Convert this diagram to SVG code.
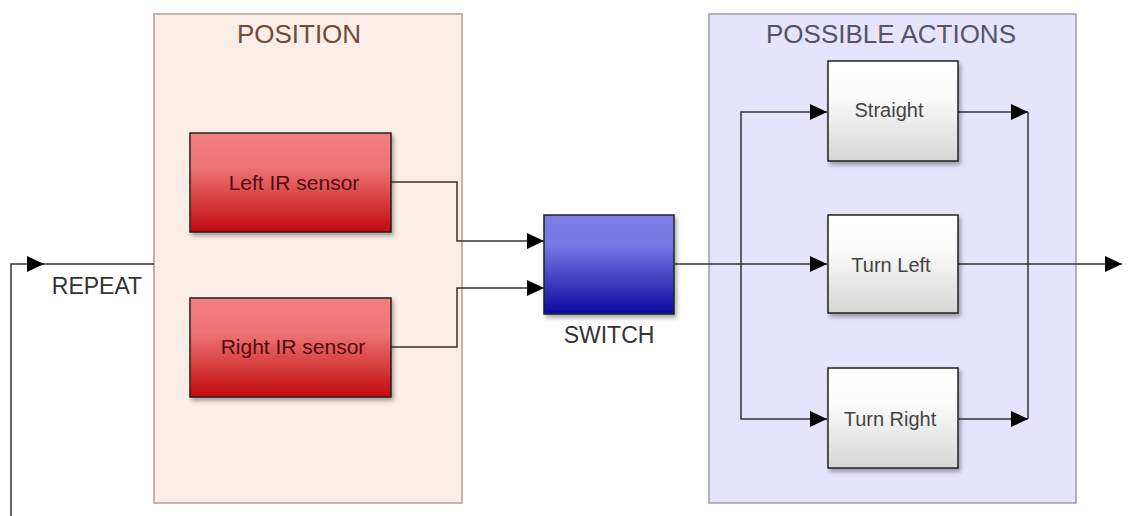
<svg xmlns="http://www.w3.org/2000/svg" width="1128" height="516" viewBox="0 0 1128 516">
<style>
.panel-title{font-family:"Liberation Sans",Arial,sans-serif;font-size:26px;text-anchor:middle}
.lbl{font-family:"Liberation Sans",Arial,sans-serif;text-anchor:middle}
.conn{fill:none;stroke:#333;stroke-width:1.5}
.box{stroke:#222;stroke-width:1.5}
</style>
<defs>
<linearGradient id="gRed" x1="0" y1="0" x2="0" y2="1">
<stop offset="0" stop-color="#f27f80"/><stop offset="0.35" stop-color="#ee7474"/><stop offset="1" stop-color="#c20a0e"/>
</linearGradient>
<linearGradient id="gBlue" x1="0" y1="0" x2="0" y2="1">
<stop offset="0" stop-color="#7d7ee6"/><stop offset="0.3" stop-color="#7778e4"/><stop offset="1" stop-color="#0b0a9e"/>
</linearGradient>
<linearGradient id="gWhite" x1="0" y1="0" x2="0" y2="1">
<stop offset="0" stop-color="#ffffff"/><stop offset="0.35" stop-color="#fbfbfb"/><stop offset="1" stop-color="#d6d6d6"/>
</linearGradient>
<filter id="sh" x="-10%" y="-10%" width="125%" height="130%">
<feDropShadow dx="2" dy="3" stdDeviation="2" flood-color="#000" flood-opacity="0.35"/>
</filter>
<marker id="arr" viewBox="0 0 17 16" refX="17" refY="8" markerWidth="17" markerHeight="16" markerUnits="userSpaceOnUse" orient="auto">
<path d="M0,0 L17,8 L0,16 Z" fill="#000"/>
</marker>
</defs>
<rect width="1128" height="516" fill="#fff"/>

<g id="panel-position">
<rect x="154" y="14" width="308" height="489" fill="#fcede7" stroke="#b89c92" stroke-width="1.5"/>
<text class="panel-title" x="299" y="43" fill="#6e4c3a">POSITION</text>
</g>
<g id="panel-actions">
<rect x="709" y="14" width="367" height="489" fill="#e5e4fb" stroke="#9a9ab2" stroke-width="1.5"/>
<text class="panel-title" x="891" y="43" fill="#555566">POSSIBLE ACTIONS</text>
</g>

<g id="connectors">
<polyline class="conn" points="11,516 11,264 44,264" marker-end="url(#arr)"/>
<line class="conn" x1="44" y1="264" x2="154" y2="264"/>
<polyline class="conn" points="391,182 457,182 457,241 544,241" marker-end="url(#arr)"/>
<polyline class="conn" points="391,347 457,347 457,288 544,288" marker-end="url(#arr)"/>
<line class="conn" x1="675" y1="264" x2="827" y2="264" marker-end="url(#arr)"/>
<polyline class="conn" points="741,264 741,112 827,112" marker-end="url(#arr)"/>
<polyline class="conn" points="741,264 741,419 827,419" marker-end="url(#arr)"/>
<line class="conn" x1="958" y1="112" x2="1028" y2="112" marker-end="url(#arr)"/>
<line class="conn" x1="958" y1="419" x2="1028" y2="419" marker-end="url(#arr)"/>
<line class="conn" x1="1028" y1="112" x2="1028" y2="419"/>
<line class="conn" x1="958" y1="264" x2="1122" y2="264" marker-end="url(#arr)"/>
</g>

<g id="repeat-label">
<text class="lbl" x="97" y="294" font-size="23" fill="#333">REPEAT</text>
</g>

<g id="left-ir">
<rect class="box" x="190" y="133" width="201" height="99" fill="url(#gRed)" filter="url(#sh)"/>
<text class="lbl" x="294" y="190" font-size="21" fill="#4e0e0e">Left IR sensor</text>
</g>
<g id="right-ir">
<rect class="box" x="190" y="298" width="201" height="99" fill="url(#gRed)" filter="url(#sh)"/>
<text class="lbl" x="293" y="354" font-size="21" fill="#4e0e0e">Right IR sensor</text>
</g>
<g id="switch">
<rect class="box" x="544" y="215" width="130" height="99" fill="url(#gBlue)" filter="url(#sh)"/>
<text class="lbl" x="609" y="343" font-size="23" fill="#333">SWITCH</text>
</g>
<g id="straight">
<rect class="box" x="828" y="61" width="130" height="100" fill="url(#gWhite)" filter="url(#sh)"/>
<text class="lbl" x="889" y="117" font-size="20" fill="#444">Straight</text>
</g>
<g id="turn-left">
<rect class="box" x="828" y="215" width="130" height="98" fill="url(#gWhite)" filter="url(#sh)"/>
<text class="lbl" x="891" y="272" font-size="20" fill="#444">Turn Left</text>
</g>
<g id="turn-right">
<rect class="box" x="828" y="368" width="130" height="100" fill="url(#gWhite)" filter="url(#sh)"/>
<text class="lbl" x="890" y="426" font-size="20" fill="#444">Turn Right</text>
</g>
</svg>
